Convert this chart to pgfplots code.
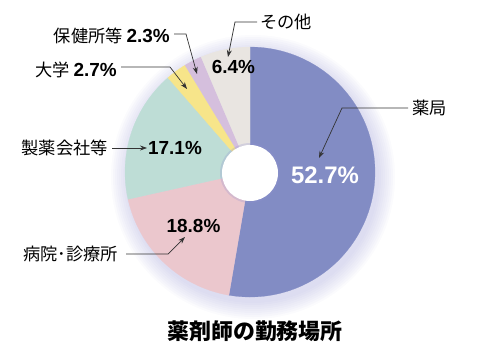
\documentclass[border=0pt]{standalone}
\usepackage{pgfplots}
\pgfplotsset{compat=1.18}
\usepackage{fontspec}
\setmainfont{Noto Sans CJK JP}
\newfontfamily\pct{Liberation Sans}
\usetikzlibrary{arrows.meta}
\definecolor{cYak}{HTML}{828CC4}
\definecolor{cByo}{HTML}{EBC7CD}
\definecolor{cSei}{HTML}{BEDDD6}
\definecolor{cDai}{HTML}{F7E58A}
\definecolor{cHok}{HTML}{D5BFDD}
\definecolor{cOth}{HTML}{E9E5E1}
\definecolor{cShd}{HTML}{9090D0}
\begin{document}
\begin{tikzpicture}
\begin{axis}[hide axis, scale only axis, width=500bp, height=351bp,
  xmin=0, xmax=500, ymin=0, ymax=351, y dir=reverse, clip=false]
% soft shadow
\pgfplotsinvokeforeach{126,128,130,132,134,136,138,140,142}{
  \fill[cShd, opacity=0.04] (axis cs:253,177) circle[radius=#1];
}
% slices: cumulative shares (percent), clockwise from top
% 薬局 52.7, 病院・診療所 18.8, 製薬会社等 17.1, 大学 2.7, 保健所等 2.3, その他 6.4
\addplot[fill=cYak, draw=cYak, line width=0.2pt, domain=0:52.7, samples=120, variable=\t] ({250+125*sin(3.6*\t)},{172-125*cos(3.6*\t)}) -- (axis cs:250,172) -- cycle;
\addplot[fill=cByo, draw=cByo, line width=0.2pt, domain=52.7:71.5, samples=60, variable=\t] ({250+125*sin(3.6*\t)},{172-125*cos(3.6*\t)}) -- (axis cs:250,172) -- cycle;
\addplot[fill=cSei, draw=cSei, line width=0.2pt, domain=71.5:88.6, samples=60, variable=\t] ({250+125*sin(3.6*\t)},{172-125*cos(3.6*\t)}) -- (axis cs:250,172) -- cycle;
\addplot[fill=cDai, draw=cDai, line width=0.2pt, domain=88.6:91.3, samples=15, variable=\t] ({250+125*sin(3.6*\t)},{172-125*cos(3.6*\t)}) -- (axis cs:250,172) -- cycle;
\addplot[fill=cHok, draw=cHok, line width=0.2pt, domain=91.3:93.6, samples=15, variable=\t] ({250+125*sin(3.6*\t)},{172-125*cos(3.6*\t)}) -- (axis cs:250,172) -- cycle;
\addplot[fill=cOth, draw=cOth, line width=0.2pt, domain=93.6:100, samples=30, variable=\t] ({250+125*sin(3.6*\t)},{172-125*cos(3.6*\t)}) -- (axis cs:250,172) -- cycle;
% hole
\fill[cShd, opacity=0.25] (axis cs:250,173) circle[radius=30];
\fill[white] (axis cs:250,173) circle[radius=28];
% labels
\node[white, font=\pct\bfseries\fontsize{24}{26}\selectfont] at (axis cs:325,175) {52.7\%};
\node[font=\pct\bfseries\fontsize{19}{21}\selectfont] at (axis cs:193.5,226) {18.8\%};
\node[font=\pct\bfseries\fontsize{19}{21}\selectfont] at (axis cs:175,148) {17.1\%};
\node[font=\pct\bfseries\fontsize{19}{21}\selectfont] at (axis cs:233.5,67) {6.4\%};
\node[anchor=west, font=\fontsize{17.3}{19}\selectfont, inner sep=0pt] at (axis cs:412,108) {薬局};
\node[anchor=east, font=\fontsize{17.3}{19}\selectfont, inner sep=0pt] at (axis cs:118,254) {病院･診療所};
\node[anchor=east, font=\fontsize{17.3}{19}\selectfont, inner sep=0pt] at (axis cs:108,148) {製薬会社等};
\node[anchor=east, font=\fontsize{17.3}{19}\selectfont, inner sep=0pt] at (axis cs:117,70) {大学 {\pct\bfseries\fontsize{19}{21}\selectfont 2.7\%}};
\node[anchor=east, font=\fontsize{17.3}{19}\selectfont, inner sep=0pt] at (axis cs:170,36) {保健所等 {\pct\bfseries\fontsize{19}{21}\selectfont 2.3\%}};
\node[anchor=west, font=\fontsize{17.3}{19}\selectfont, inner sep=0pt] at (axis cs:260,22) {その他};
\node[font=\bfseries\fontsize{22}{24}\selectfont] at (axis cs:255,331) {薬剤師の勤務場所};
% leader arrows
\draw[line width=0.7pt, black!80, -{Stealth[length=7pt,width=5pt]}] (axis cs:408,108) -- (axis cs:342,108) -- (axis cs:319,158);
\draw[line width=0.7pt, black!80, -{Stealth[length=7pt,width=5pt]}] (axis cs:126,254) -- (axis cs:168,254) -- (axis cs:185,237);
\draw[line width=0.7pt, black!80, -{Stealth[length=7pt,width=5pt]}] (axis cs:112,148) -- (axis cs:147,148);
\draw[line width=0.7pt, black!80, -{Stealth[length=7pt,width=5pt]}] (axis cs:121,67) -- (axis cs:170,67) -- (axis cs:187,89);
\draw[line width=0.7pt, black!80, -{Stealth[length=7pt,width=5pt]}] (axis cs:174,34) -- (axis cs:186,34) -- (axis cs:197,74);
\draw[line width=0.7pt, black!80, -{Stealth[length=7pt,width=5pt]}] (axis cs:257,22) -- (axis cs:235,22) -- (axis cs:228,57);
\path (axis cs:0,0) rectangle (axis cs:500,351);
\end{axis}
\end{tikzpicture}
\end{document}
